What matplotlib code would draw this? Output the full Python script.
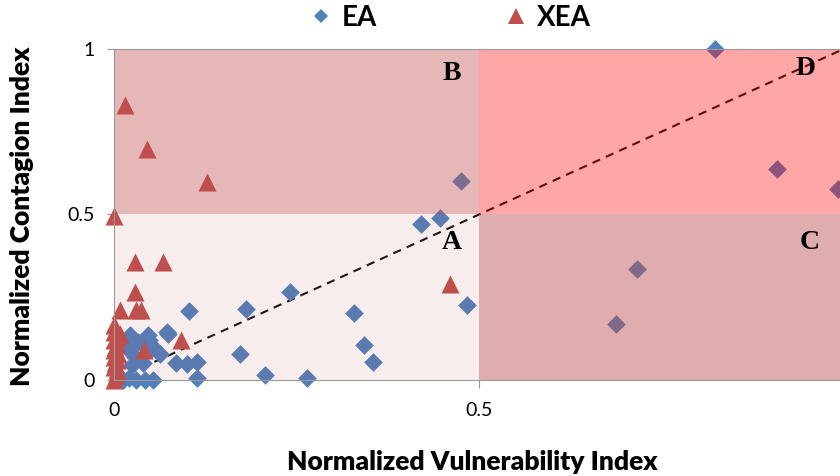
import matplotlib
matplotlib.use("Agg")
import matplotlib.pyplot as plt
from matplotlib.patches import Rectangle
from matplotlib.lines import Line2D

# EA countries (diamonds)
ea_x = [0.824, 0.909, 0.992, 0.475, 0.447, 0.420, 0.484, 0.717, 0.688,
        0.241, 0.180, 0.102, 0.329, 0.342, 0.355, 0.172, 0.207, 0.264,
        0.073, 0.113, 0.113, 0.100, 0.084, 0.062, 0.048, 0.021, 0.019,
        0.046, 0.072, 0.032, 0.028, 0.053, 0.024, 0.039, 0.012, 0.020,
        0.030, 0.042, 0.053, 0.017, 0.051]
ea_y = [1.000, 0.637, 0.577, 0.601, 0.489, 0.471, 0.227, 0.335, 0.169,
        0.266, 0.214, 0.208, 0.203, 0.106, 0.054, 0.079, 0.015, 0.006,
        0.139, 0.006, 0.054, 0.048, 0.051, 0.080, 0.120, 0.136, 0.100,
        0.136, 0.145, 0.115, 0.070, 0.100, 0.045, 0.050, 0.000, 0.005,
        0.000, 0.000, 0.000, 0.097, 0.097]

# XEA countries (triangles)
xea_x = [0.014, 0.044, 0.127, 0.000, 0.028, 0.066, 0.028, 0.030, 0.037,
         0.007, 0.091, 0.040, 0.460, 0.008,
         0.000, 0.002, 0.000, 0.003, 0.000, 0.004, 0.001, 0.000, 0.005,
         0.000, 0.003, 0.001, 0.000, 0.004, 0.002, 0.000]
xea_y = [0.832, 0.698, 0.598, 0.495, 0.356, 0.356, 0.266, 0.210, 0.210,
         0.210, 0.120, 0.092, 0.290, 0.140,
         0.165, 0.155, 0.145, 0.130, 0.120, 0.110, 0.100, 0.090, 0.080,
         0.070, 0.060, 0.050, 0.040, 0.030, 0.015, 0.000]

threshold = 0.5
quadrants = ["A", "B", "C", "D"]

fig = plt.figure(figsize=(8.4, 4.76), dpi=100)
ax = fig.add_axes([0.1363, 0.2017, 0.868, 0.6954])
ax.set_xlim(0, 1)
ax.set_ylim(0, 1)

# diagonal y = x
ax.plot([0, 1], [0, 1], ls=(0, (4, 3)), color="#111111", lw=1.5, zorder=1.5)

ax.scatter(ea_x, ea_y, marker="D", s=9.5 ** 2, color="#4F81BD", linewidths=0,
           zorder=2, clip_on=False)
ax.scatter(xea_x, xea_y, marker="^", s=13 ** 2, color="#C0504D", linewidths=0,
           zorder=2, clip_on=False)

# translucent quadrant shading on top of the markers
ax.add_patch(Rectangle((0, 0), threshold, threshold, facecolor=(0.71, 0.31, 0.31),
                       alpha=0.1, lw=0, zorder=3))
ax.add_patch(Rectangle((0, threshold), threshold, 1 - threshold,
                       facecolor=(0.75, 0.30, 0.30), alpha=0.4, lw=0, zorder=3))
ax.add_patch(Rectangle((threshold, 0), 1 - threshold, threshold,
                       facecolor=(0.73, 0.29, 0.29), alpha=0.45, lw=0, zorder=3))
ax.add_patch(Rectangle((threshold, threshold), 1 - threshold, 1 - threshold,
                       facecolor=(1.0, 0.0, 0.0), alpha=0.35, lw=0, zorder=3))

# quadrant letters
serif = dict(family="Liberation Serif", weight="bold", fontsize=20, zorder=5,
             ha="center", va="center", color="black")
ax.text(0.463, 0.414, quadrants[0], **serif)
ax.text(0.463, 0.927, quadrants[1], **serif)
ax.text(0.954, 0.414, quadrants[2], **serif)
ax.text(0.948, 0.940, quadrants[3], **serif)

for side in ["left", "bottom", "top"]:
    ax.spines[side].set_color("#9a9a9a")
    ax.spines[side].set_zorder(4)
ax.spines["right"].set_visible(False)

ax.set_xticks([0, 0.5, 1])
ax.set_xticklabels(["0", "0.5", "1"])
ax.set_yticks([0, 0.5, 1])
ax.set_yticklabels(["0", "0.5", "1"])
ax.tick_params(axis="x", length=6, pad=10, labelsize=14, color="#9a9a9a")
ax.tick_params(axis="y", length=5, pad=9, labelsize=14, color="#9a9a9a")
for lbl in ax.get_xticklabels() + ax.get_yticklabels():
    lbl.set_family("Lato")

fig.text(0.026, 0.545, "Normalized Contagion Index", rotation=90, ha="center",
         va="center", family="Lato", weight="heavy", fontsize=19)
fig.text(0.562, 0.03, "Normalized Vulnerability Index", ha="center",
         va="center", family="Lato", weight="heavy", fontsize=19)

handles = [Line2D([], [], marker="D", ls="none", color="#4F81BD", ms=7.5, mew=0),
           Line2D([], [], marker="^", ls="none", color="#C0504D", ms=11.5, mew=0)]
fig.legend(handles, ["EA", "XEA"], loc="center", bbox_to_anchor=(0.533, 0.962),
           ncol=2, frameon=False, columnspacing=4.4, handletextpad=0.15,
           handlelength=1.2, prop=dict(family="Lato", weight="bold", size=20))

fig.savefig("out.png", dpi=100)
